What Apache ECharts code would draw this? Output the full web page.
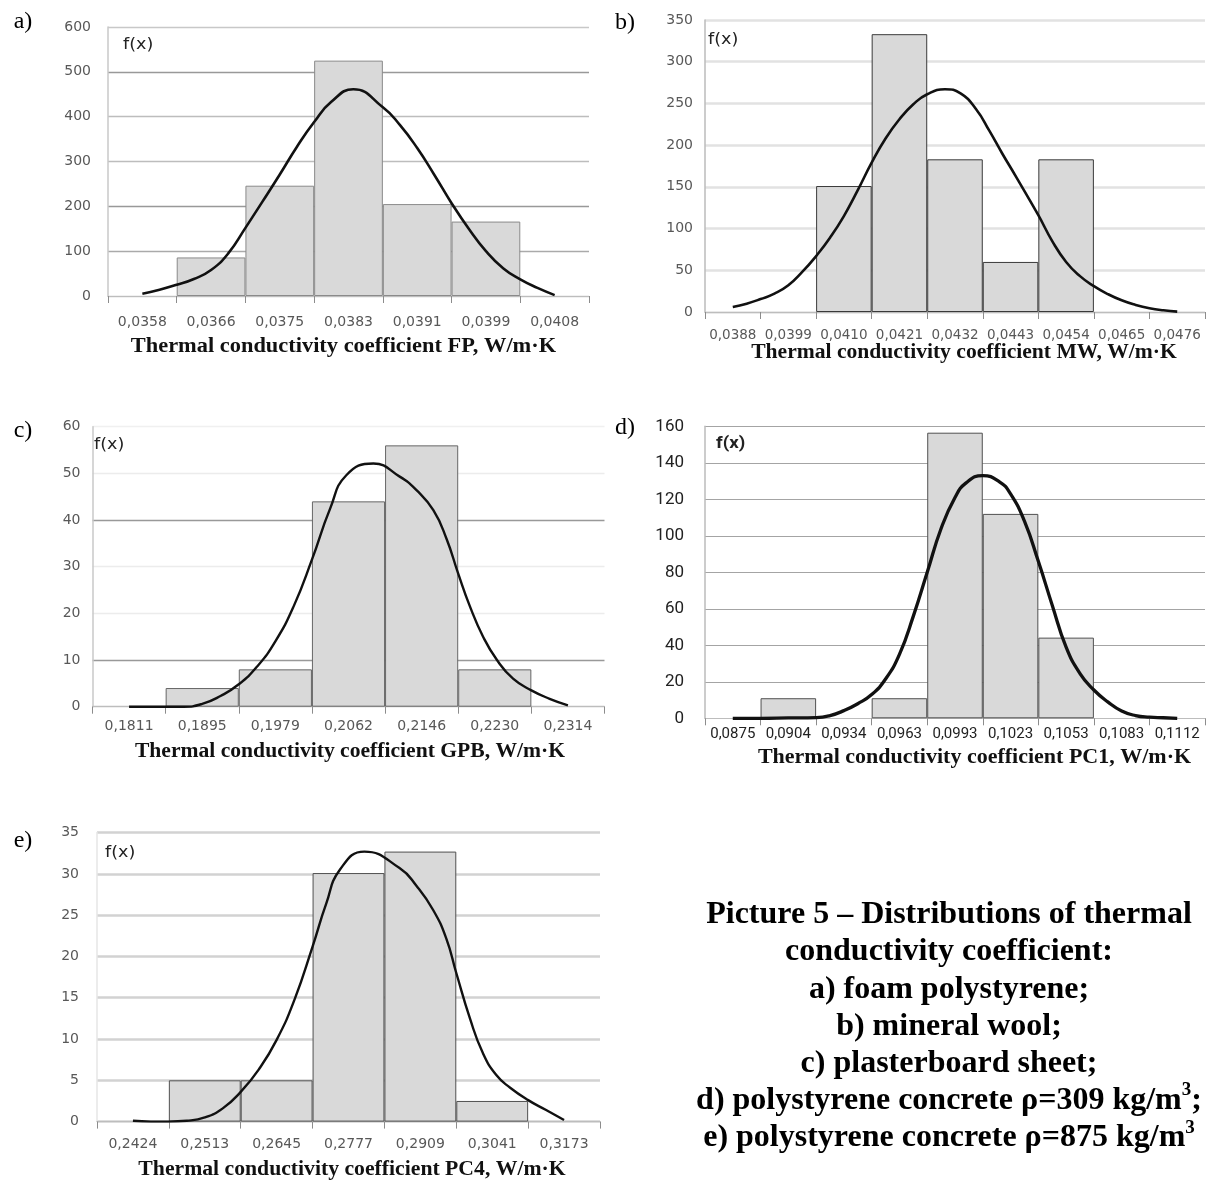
<!DOCTYPE html>
<html><head><meta charset="utf-8">
<script src="https://cdn.jsdelivr.net/npm/echarts@6/dist/echarts.min.js"></script>
<style>html,body{margin:0;padding:0;background:#fff}#c{width:1209px;height:1180px}</style>
</head><body><div id="c"></div>
<script>
// ---------- DATA ----------
// Density curves: points; position is given in bin units
// (0 = centre of first bin, 1 = centre of second bin, ...)
// a) foam polystyrene
const catsA = ['0,0358','0,0366','0,0375','0,0383','0,0391','0,0399','0,0408'];
const barsA = [null, 86, 246, 525, 205, 166, null];
const curvePosA = [0, 0.25, 0.5, 0.75, 1, 1.25, 1.5, 1.75, 2, 2.25, 2.5, 2.75, 3.07, 3.5, 3.75, 4, 4.25, 4.5, 4.75, 5, 5.25, 5.5, 5.75, 6];
const curveValA = [5, 14, 25, 38, 58, 95, 152, 211, 271, 333, 388, 433, 461, 421, 381, 330, 270, 207, 150, 100, 62, 37, 18, 2];
const yTicksA = [0, 600, 100];

// b) mineral wool
const catsB = ['0,0388','0,0399','0,0410','0,0421','0,0432','0,0443','0,0454','0,0465','0,0476'];
const barsB = [null, null, 151, 333, 183, 60, 183, null, null];
const curvePosB = [0, 0.25, 0.5, 0.75, 1, 1.25, 1.5, 1.75, 2, 2.25, 2.5, 2.75, 3, 3.25, 3.5, 3.82, 4.1, 4.38, 4.62, 4.85, 5.1, 5.5, 5.75, 6, 6.25, 6.5, 6.75, 7, 7.25, 7.5, 7.75, 8];
const curveValB = [6, 10, 15.5, 22, 32, 48, 67, 89, 115, 146, 179, 208, 231, 249, 261, 267, 262, 243, 217, 190, 162, 116, 85, 60, 43, 31, 21.5, 14, 8.5, 4.5, 2, 0.5];
const yTicksB = [0, 350, 50];

// c) plasterboard sheet
const catsC = ['0,1811','0,1895','0,1979','0,2062','0,2146','0,2230','0,2314'];
const barsC = [null, 4, 8, 44, 56, 8, null];
const curvePosC = [0, 0.25, 0.5, 0.75, 1, 1.25, 1.5, 1.75, 2, 2.25, 2.5, 2.75, 2.97, 3.34, 3.7, 3.93, 4.16, 4.34, 4.5, 4.66, 4.84, 5.03, 5.25, 5.5, 5.75, 6];
const curveValC = [0, 0, 0, 0, 0.6, 2.3, 4.8, 8.6, 14, 21.5, 31.5, 42.5, 49.6, 52.1, 49.3, 46.4, 42.1, 36, 28.5, 21.5, 15, 10, 6, 3.5, 1.7, 0.3];
const yTicksC = [0, 60, 10];

// d) polystyrene concrete 309 kg/m3
const catsD = ['0,0875','0,0904','0,0934','0,0963','0,0993','0,1023','0,1053','0,1083','0,1112'];
const barsD = [null, 11, null, 11, 156.5, 112, 44.2, null, null];
const curvePosD = [0, 0.5, 1, 1.5, 1.75, 2, 2.25, 2.5, 2.75, 3, 3.25, 3.5, 3.75, 4, 4.2, 4.5, 4.8, 5, 5.25, 5.5, 5.75, 6, 6.25, 6.5, 6.75, 7, 7.25, 7.5, 7.75, 8];
const curveValD = [0, 0, 0.2, 0.4, 1.5, 4.2, 8, 13, 21.5, 35, 56, 80, 104, 121, 129, 133, 129.6, 123, 108, 86, 62, 39, 24.5, 15.5, 9, 4, 1.5, 0.6, 0.3, 0];
const yTicksD = [0, 160, 20];

// e) polystyrene concrete 875 kg/m3
const catsE = ['0,2424','0,2513','0,2645','0,2777','0,2909','0,3041','0,3173'];
const barsE = [null, 5, 5, 30.1, 32.7, 2.5, null];
const curvePosE = [0, 0.25, 0.5, 0.75, 1, 1.25, 1.5, 1.75, 2, 2.25, 2.5, 2.69, 2.88, 3.22, 3.71, 3.95, 4.18, 4.36, 4.5, 4.69, 4.87, 5.06, 5.25, 5.5, 5.75, 6];
const curveValE = [0.1, 0, 0, 0.1, 0.5, 1.6, 3.6, 6.3, 9.9, 14.8, 21.2, 26.4, 30.5, 32.7, 30.7, 28.5, 25.6, 22.2, 18, 12.5, 8.3, 5.6, 4.1, 2.6, 1.4, 0.2];
const yTicksE = [0, 35, 5];

const titles = [
  'Thermal conductivity coefficient FP, W/m·K',
  'Thermal conductivity coefficient MW, W/m·K',
  'Thermal conductivity coefficient GPB, W/m·K',
  'Thermal conductivity coefficient PC1, W/m·K',
  'Thermal conductivity coefficient PC4, W/m·K'
];
const letters = ['a)', 'b)', 'c)', 'd)', 'e)'];
const captionLines = [
  '{n|Picture 5 – Distributions of thermal}',
  '{n|conductivity coefficient:}',
  '{n|a) foam polystyrene;}',
  '{n|b) mineral wool;}',
  '{n|c) plasterboard sheet;}',
  '{n|d) polystyrene concrete ρ=309 kg/m}{s|3}{n|;}',
  '{n|e) polystyrene concrete ρ=875 kg/m}{s|3}'
];

// ---------- LAYOUT / STYLE ----------
const panelData = [
  {cats: catsA, bars: barsA, cx: curvePosA, cy: curveValA, y: yTicksA},
  {cats: catsB, bars: barsB, cx: curvePosB, cy: curveValB, y: yTicksB},
  {cats: catsC, bars: barsC, cx: curvePosC, cy: curveValC, y: yTicksC},
  {cats: catsD, bars: barsD, cx: curvePosD, cy: curveValD, y: yTicksD},
  {cats: catsE, bars: barsE, cx: curvePosE, cy: curveValE, y: yTicksE}
];
const dv = 'DejaVu Sans';
const layouts = [
  {left: 108, top: 27, width: 481, height: 269, xFont: 14, yFont: 14, ff: dv, lc: '#585858', xm: 19, ym: 17,
   grid: ['#c8c8c8', '#aaaaaa', '#999999', '#bdbdbd', '#bdbdbd', '#999999', '#c8c8c8'], gw: 1.3, yAxisC: '#c8c8c8',
   border: '#8a8a8a', lw: 2.6, title: [343.5, 347, 1.12], letter: [23, 22], fx: [123, 45, 'normal 16px "DejaVu Sans"']},
  {left: 705, top: 20, width: 500, height: 292, xFont: 13.5, yFont: 14, ff: dv, lc: '#585858', xm: 16, ym: 12,
   grid: '#e2e2e2', gw: 2.5, yAxisC: '#bbbbbb',
   border: '#3a3a3a', lw: 2.6, title: [964, 353, 1.08], letter: [625, 23], fx: [708, 40, 'normal 16px "DejaVu Sans"']},
  {left: 92.5, top: 426.7, width: 512, height: 280, xFont: 14, yFont: 14, ff: dv, lc: '#585858', xm: 13, ym: 12,
   grid: ['#c0c0c0', '#999999', '#ececec', '#ececec', '#999999', '#ececec', '#f0f0f0'], gw: 1.3, yAxisC: '#c8c8c8',
   border: '#666666', lw: 2.4, title: [350, 752, 1.08], letter: [23, 431], fx: [94, 445, 'normal 16px "DejaVu Sans"']},
  {left: 705, top: 426.3, width: 500, height: 292, xFont: 15, yFont: 17, ff: 'Roboto', lc: '#222222', xm: 8, ym: 21,
   grid: '#a4a4a4', gw: 1, yAxisC: '#bbbbbb',
   border: '#505050', lw: 3.3, title: [974.5, 758, 1.10], letter: [625, 428], fx: [716, 444, 'bold 17px Roboto']},
  {left: 97, top: 832.6, width: 503, height: 289, xFont: 14, yFont: 14, ff: dv, lc: '#585858', xm: 16, ym: 18,
   grid: '#d2d2d2', gw: 2.5, yAxisC: '#e6e6e6',
   border: '#505050', lw: 2.4, title: [352, 1170, 1.085], letter: [23, 841], fx: [105, 853, 'normal 16px "DejaVu Sans"']}
];

const grid = [], xAxis = [], yAxis = [], series = [], graphic = [];
panelData.forEach((p, i) => {
  const L = layouts[i];
  const n = p.cats.length;
  grid.push({left: L.left, top: L.top, width: L.width, height: L.height, containLabel: false});
  xAxis.push({
    type: 'category', gridIndex: i, data: p.cats, boundaryGap: true,
    axisLine: {show: true, onZero: false, lineStyle: {color: '#bdbdbd', width: 1}},
    axisTick: {show: true, interval: 0, length: 7, lineStyle: {color: '#8c8c8c'}},
    axisLabel: {interval: 0, margin: L.xm, fontSize: L.xFont, fontFamily: L.ff, color: L.lc},
    splitLine: {show: false}
  });
  xAxis.push({type: 'value', gridIndex: i, min: -0.5, max: n - 0.5, show: false});
  yAxis.push({
    type: 'value', gridIndex: i, min: p.y[0], max: p.y[1], interval: p.y[2],
    axisLine: {show: true, onZero: false, lineStyle: {color: L.yAxisC, width: 1.5}},
    axisTick: {show: false},
    axisLabel: {margin: L.ym, fontSize: L.yFont, fontFamily: L.ff, color: L.lc},
    splitLine: {show: true, lineStyle: {color: L.grid, width: L.gw}}
  });
  series.push({
    type: 'bar', xAxisIndex: 2 * i, yAxisIndex: i, data: p.bars,
    barCategoryGap: '0%', itemStyle: {color: '#d9d9d9', borderColor: L.border, borderWidth: 1}, z: 2
  });
  series.push({
    type: 'line', xAxisIndex: 2 * i + 1, yAxisIndex: i,
    data: p.cx.map((x, k) => [x, p.cy[k]]),
    smooth: 0.5, symbol: 'none', lineStyle: {color: '#111', width: L.lw}, z: 3
  });
  graphic.push({type: 'text', x: L.title[0], y: L.title[1], scaleX: L.title[2], z: 10,
    style: {text: titles[i], font: 'bold 20px "Liberation Serif"', fill: '#111', textAlign: 'center', textVerticalAlign: 'middle'}});
  graphic.push({type: 'text', x: L.letter[0], y: L.letter[1], z: 10,
    style: {text: letters[i], font: 'normal 24px "Liberation Serif"', fill: '#000', textAlign: 'center', textVerticalAlign: 'middle'}});
  graphic.push({type: 'text', x: L.fx[0], y: L.fx[1], scaleX: 1.1, z: 10,
    style: {text: 'f(x)', font: L.fx[2], fill: '#222', textAlign: 'left', textVerticalAlign: 'middle'}});
});

const capCenterX = 949, capTop = 913, capStep = 37.2;
captionLines.forEach((t, k) => {
  graphic.push({type: 'text', x: capCenterX, y: capTop + k * capStep, z: 10, style: {
    text: t, fill: '#000', textAlign: 'center', textVerticalAlign: 'middle',
    rich: {
      n: {fontFamily: 'Liberation Serif', fontWeight: 'bold', fontSize: 32, lineHeight: 36, verticalAlign: 'bottom'},
      s: {fontFamily: 'Liberation Serif', fontWeight: 'bold', fontSize: 19, lineHeight: 36, verticalAlign: 'top', padding: [0, 0, 14, 0]}
    }
  }});
});

const chart = echarts.init(document.getElementById('c'), null, {renderer: 'canvas'});
chart.setOption({animation: false, backgroundColor: '#fff', grid, xAxis, yAxis, series, graphic});
</script>
</body></html>
